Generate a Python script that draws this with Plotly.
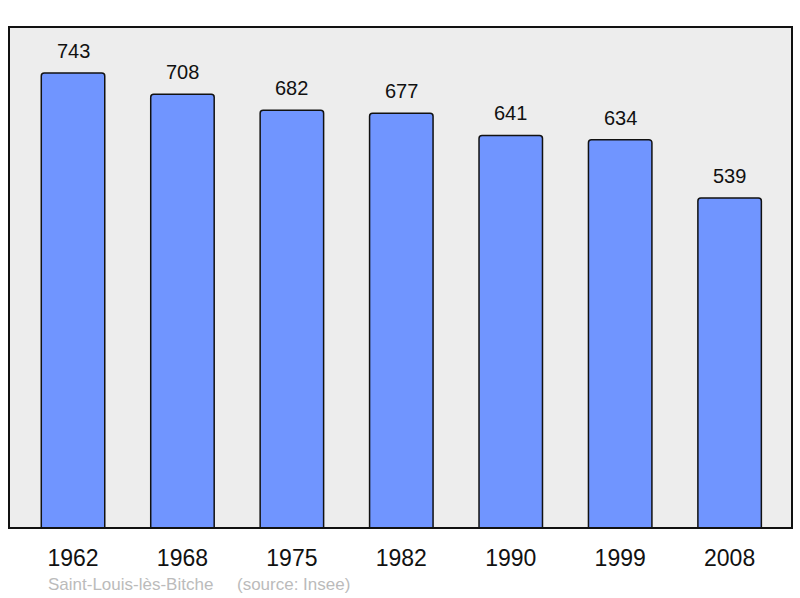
import plotly.graph_objects as go

years = ["1962", "1968", "1975", "1982", "1990", "1999", "2008"]
population = [743, 708, 682, 677, 641, 634, 539]
commune = "Saint-Louis-lès-Bitche"
source = "(source: Insee)"

fig = go.Figure(
    go.Bar(
        x=list(range(len(years))),
        y=population,
        width=0.58,
        marker=dict(color="#7095FF", line=dict(color="#111111", width=1.5), cornerradius=3),
        hoverinfo="y",
    )
)

# value labels above bars
for i, val in enumerate(population):
    fig.add_annotation(
        x=i, y=val, text=str(val), showarrow=False,
        yanchor="middle", yshift=22,
        font=dict(family="Liberation Sans, Arial", size=20, color="#111111"),
    )

# frame around plot area
fig.add_shape(
    type="rect", xref="paper", yref="paper", x0=0, y0=0, x1=1, y1=1,
    line=dict(color="#111111", width=2), fillcolor="rgba(0,0,0,0)", layer="above",
)

fig.add_annotation(
    xref="paper", yref="paper", x=0.047, y=-0.112, xanchor="left", yanchor="middle",
    text=commune + "&nbsp;&nbsp;&nbsp;&nbsp;&nbsp;" + source, showarrow=False,
    font=dict(family="Liberation Sans, Arial", size=17, color="#BBBBBB"),
)

fig.update_layout(
    width=800, height=598,
    margin=dict(l=9, r=8, t=27, b=70),
    paper_bgcolor="white",
    plot_bgcolor="#EDEDED",
    showlegend=False,
    xaxis=dict(
        range=[-0.585, 6.57], showgrid=False, zeroline=False,
        tickmode="array", tickvals=list(range(len(years))), ticktext=years,
        ticks="", ticklabelstandoff=14,
        tickfont=dict(family="Liberation Sans, Arial", size=23, color="#111111"),
    ),
    yaxis=dict(range=[0, 818], visible=False, showgrid=False, zeroline=False),
)

# drop the default body margin so the 800x598 figure fills the window
fig.write_html(
    "out.html",
    config={"displayModeBar": False},
    post_script="document.body.style.margin = '0';",
)
